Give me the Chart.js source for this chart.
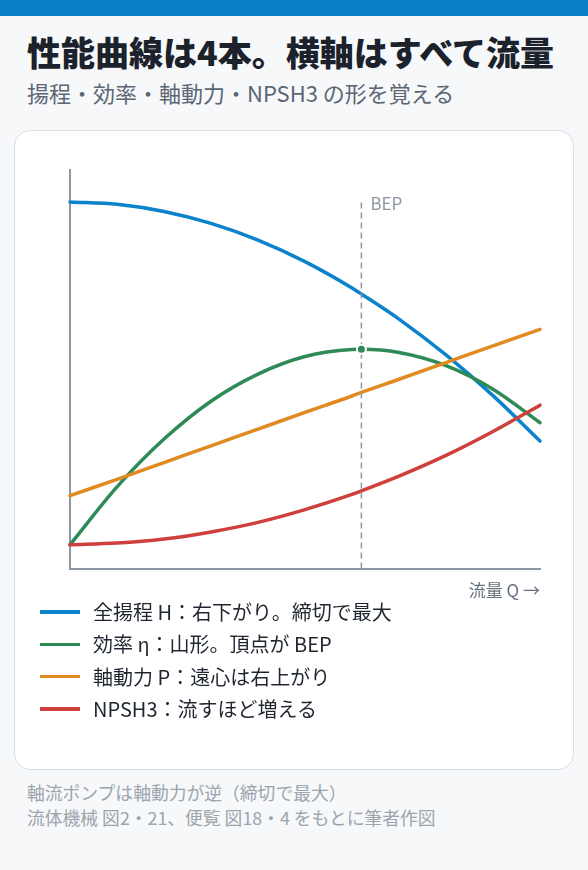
<!DOCTYPE html>
<html lang="ja">
<head>
<meta charset="utf-8">
<script src="https://cdn.jsdelivr.net/npm/chart.js@4.4.1/dist/chart.umd.min.js"></script>
<style>
html,body{margin:0;padding:0}
body{width:588px;height:870px;background:#f6f8fa;position:relative;overflow:hidden;font-family:"Noto Sans CJK JP","Noto Sans",sans-serif}
.bar{position:absolute;left:0;top:0;width:588px;height:16px;background:#0780c8}
.title{position:absolute;left:27px;top:35px;font-size:34px;line-height:34px;font-weight:900;color:#1c222b;white-space:nowrap;margin:0}
.sub{position:absolute;left:27px;top:81px;font-size:22px;line-height:22px;color:#5b6573;white-space:nowrap;margin:0}
.card{position:absolute;left:14px;top:130px;width:560px;height:640px;box-sizing:border-box;background:#fff;border:1.5px solid #d7dee6;border-radius:16px}
.chartbox{position:absolute;left:14px;top:130px;width:560px;height:480px}
.legend{position:absolute;left:40px;top:596px}
.row{display:flex;align-items:center;height:32.3px}
.sw{width:40px;height:3.5px;margin-right:13px;flex:none}
.lt{font-size:20px;color:#1f2630;white-space:nowrap;line-height:20px}
.foot{position:absolute;left:27px;font-size:17.8px;line-height:18px;color:#9ca4ae;white-space:nowrap;margin:0}
</style>
</head>
<body>
<div class="bar"></div>
<h1 class="title">性能曲線は4本。横軸はすべて流量</h1>
<p class="sub">揚程・効率・軸動力・NPSH3 の形を覚える</p>
<div class="card"></div>
<div class="chartbox"><canvas id="c"></canvas></div>
<div class="legend" id="legend"></div>
<p class="foot" style="top:783px">軸流ポンプは軸動力が逆（締切で最大）</p>
<p class="foot" style="top:808px">流体機械 図2・21、便覧 図18・4 をもとに筆者作図</p>
<script>
// ---- data ----
const flowQ      = [0, 10, 20, 30, 40, 50, 60, 62, 70, 80, 90, 100];
const headH      = [92.0, 91.4, 89.6, 86.6, 82.4, 77.0, 70.4, 68.9, 62.6, 53.6, 43.4, 32.0];
const efficiency = [6.0, 20.5, 32.5, 42.0, 48.8, 53.2, 54.95, 55.0, 54.2, 50.9, 45.0, 36.6];
const shaftPower = [18.3, 22.4, 26.6, 30.8, 35.0, 39.2, 43.3, 44.2, 47.5, 51.7, 55.9, 60.0];
const npsh3      = [6.0, 6.4, 7.4, 9.2, 11.6, 14.8, 18.6, 19.5, 23.2, 28.4, 34.4, 41.0];
const bepQ = 62;
const bepIndex = 7;
const bepLineTop = 92;
const seriesLabels = [
  '全揚程 H：右下がり。締切で最大',
  '効率 η：山形。頂点が BEP',
  '軸動力 P：遠心は右上がり',
  'NPSH3：流すほど増える'
];
const seriesColors = ['#0a82cc', '#2e8b57', '#e08a20', '#cf3f3b'];
const xAxisLabel = '流量 Q →';
const bepLabel = 'BEP';

const FONT = '"Noto Sans CJK JP","Noto Sans",sans-serif';
const AXIS = '#8d96a3';

function pts(vals){ return flowQ.map((q,i)=>({x:q, y:vals[i]})); }

const seriesValues = [headH, efficiency, shaftPower, npsh3];
const orders = [5, 4, 3, 2];
const curveSets = seriesValues.map((v,i)=>({
  label: seriesLabels[i],
  data: pts(v),
  borderColor: seriesColors[i],
  backgroundColor: seriesColors[i],
  borderWidth: 3.5,
  pointRadius: 0,
  pointHoverRadius: 0,
  cubicInterpolationMode: 'monotone',
  borderCapStyle: 'round',
  borderJoinStyle: 'round',
  clip: false,
  order: orders[i]
}));

const bepLineSet = {
  label: 'bepLine',
  data: [{x: bepQ, y: 0}, {x: bepQ, y: bepLineTop}],
  borderColor: AXIS,
  borderWidth: 1.5,
  borderDash: [6, 4],
  pointRadius: 0,
  clip: false,
  order: 1
};
const bepPointSet = {
  label: 'bepPoint',
  data: [{x: bepQ, y: efficiency[bepIndex]}],
  showLine: false,
  pointRadius: 4.5,
  pointBackgroundColor: seriesColors[1],
  pointBorderColor: '#ffffff',
  pointBorderWidth: 2,
  clip: false,
  order: 0
};

const bepText = {
  id: 'bepText',
  afterDatasetsDraw(chart){
    const {ctx, scales:{x, y}} = chart;
    ctx.save();
    ctx.font = '17px ' + FONT;
    ctx.fillStyle = AXIS;
    ctx.textBaseline = 'middle';
    ctx.textAlign = 'left';
    ctx.fillText(bepLabel, x.getPixelForValue(bepQ) + 9, y.getPixelForValue(bepLineTop) + 2);
    ctx.restore();
  }
};

const chart = new Chart(document.getElementById('c'), {
  type: 'line',
  data: { datasets: [...curveSets, bepLineSet, bepPointSet] },
  plugins: [bepText],
  options: {
    responsive: true,
    maintainAspectRatio: false,
    animation: false,
    events: [],
    layout: { padding: { left: 56, right: 34, top: 40, bottom: 9 } },
    plugins: { legend: { display: false }, tooltip: { enabled: false } },
    scales: {
      x: {
        type: 'linear', min: 0, max: 100,
        ticks: { display: false },
        grid: { display: false, drawTicks: false },
        border: { display: true, color: AXIS, width: 2 },
        title: { display: true, text: xAxisLabel, align: 'end', color: '#67717d',
                 font: { size: 17, family: FONT }, padding: { top: 12, bottom: 0 } }
      },
      y: {
        type: 'linear', min: 0, max: 100,
        ticks: { display: false },
        grid: { display: false, drawTicks: false },
        border: { display: true, color: AXIS, width: 2 }
      }
    }
  }
});

// HTML legend built from the chart's own datasets
const lg = document.getElementById('legend');
chart.data.datasets.slice(0, 4).forEach(ds => {
  const row = document.createElement('div'); row.className = 'row';
  const sw = document.createElement('span'); sw.className = 'sw'; sw.style.background = ds.borderColor;
  const tx = document.createElement('span'); tx.className = 'lt'; tx.textContent = ds.label;
  row.appendChild(sw); row.appendChild(tx); lg.appendChild(row);
});
</script>
</body>
</html>
